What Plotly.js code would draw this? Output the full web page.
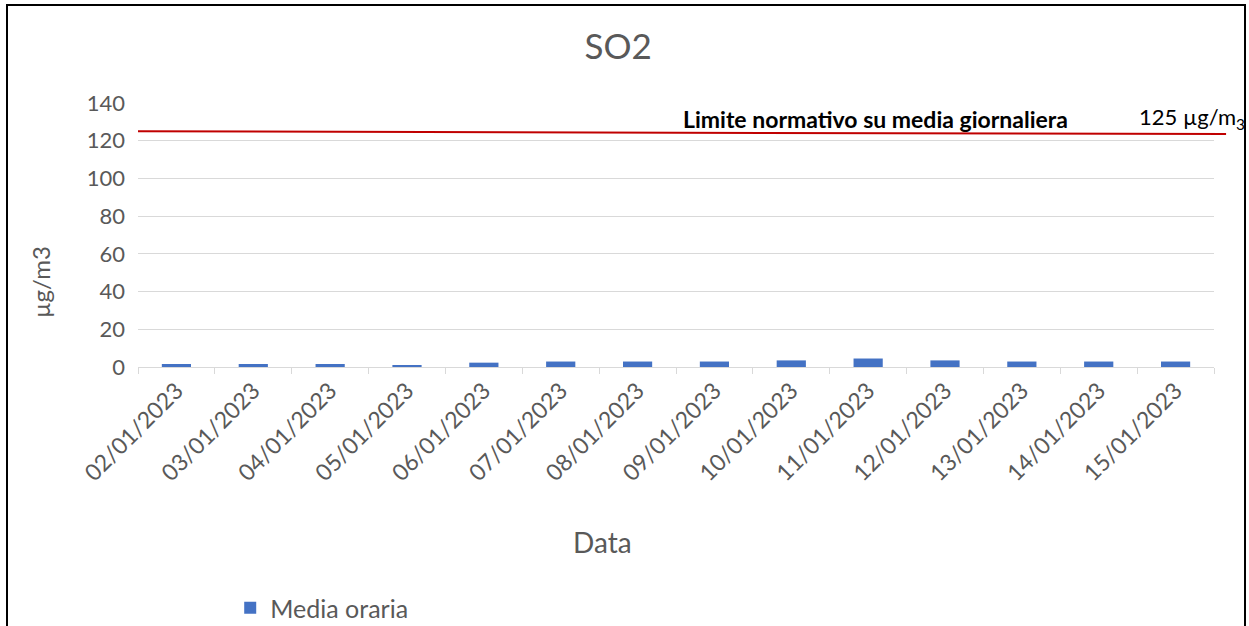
<!DOCTYPE html>
<html>
<head>
<meta charset="utf-8">
<script src="https://cdn.plot.ly/plotly-3.0.1.min.js"></script>
<style>
html,body{margin:0;padding:0;background:#fff;}
#wrap{position:relative;width:1249px;height:626px;overflow:hidden;}
#chart{position:absolute;left:0;top:0;width:1249px;height:626px;}
#frame{position:absolute;left:6px;top:4px;width:1236px;height:640px;border:2px solid #000;pointer-events:none;}
</style>
</head>
<body>
<div id="wrap"><div id="chart"></div><div id="frame"></div></div>
<script>
const dates = ["02/01/2023","03/01/2023","04/01/2023","05/01/2023","06/01/2023","07/01/2023","08/01/2023","09/01/2023","10/01/2023","11/01/2023","12/01/2023","13/01/2023","14/01/2023","15/01/2023"];
const mediaOraria = [1.6,1.6,1.6,0.9,2.3,2.9,2.9,2.9,3.5,4.5,3.5,2.9,2.9,2.9];
const limitStart = 125;
const limitEnd = 123.5;
const yTicks = [0,20,40,60,80,100,120,140];

const FONT = "Lato, 'Open Sans', sans-serif";
const GREY = "#595959";

const data = [{
  type: "bar",
  x: dates,
  y: mediaOraria,
  name: "Media oraria",
  marker: {color: "#4472c4"},
  hoverinfo: "x+y"
}];

const layout = {
  width: 1249, height: 626,
  margin: {l: 138, r: 35, t: 103, b: 259, autoexpand: false},
  paper_bgcolor: "#fff", plot_bgcolor: "#fff",
  font: {family: FONT, color: GREY, size: 18},
  bargap: 0.62,
  title: {text: "SO2", font: {family: FONT, size: 35, color: GREY}, x: 0.495, xref: "container", xanchor: "center", y: 0.925, yref: "container", yanchor: "middle"},
  showlegend: true,
  legend: {orientation: "h", x: 0.0857, xanchor: "left", y: -0.913, yanchor: "middle", font: {family: FONT, size: 25, color: GREY}, itemwidth: 30},
  xaxis: {
    type: "category",
    automargin: false,
    tickangle: -45,
    tickfont: {family: FONT, size: 23, color: GREY},
    ticks: "outside", ticklen: 6, tickcolor: "#d9d9d9", tickson: "boundaries",
    showline: true, linecolor: "#d9d9d9", linewidth: 1.3,
    showgrid: false, zeroline: false
  },
  yaxis: {
    automargin: false,
    range: [0, 140], tickvals: yTicks, ticktext: yTicks.map(String),
    tickfont: {family: FONT, size: 22, color: GREY},
    showgrid: true, gridcolor: "#d9d9d9", gridwidth: 1.3,
    zeroline: false, showline: false, ticks: "",
    ticklabelstandoff: 12
  },
  shapes: [{
    type: "line", xref: "paper", yref: "y",
    x0: 0, x1: 1.0112, y0: limitStart, y1: limitEnd,
    line: {color: "#c00000", width: 2}
  }],
  annotations: [
    {xref: "paper", yref: "y", x: 0.5045, y: 131.5, xanchor: "left", yanchor: "middle",
     text: "<b>Limite normativo su media giornaliera</b>", showarrow: false,
     font: {family: FONT, size: 23, color: "#000"}},
    {xref: "paper", yref: "y", x: 0.9287, y: 132, xanchor: "left", yanchor: "middle",
     text: "125 µg/m<sub>3</sub>", showarrow: false,
     font: {family: FONT, size: 22, color: "#000"}},
    {xref: "paper", yref: "paper", x: (602-138)/1076, y: -(542-367)/264, xanchor: "center", yanchor: "middle",
     text: "Data", showarrow: false, font: {family: FONT, size: 28, color: GREY}},
    {xref: "paper", yref: "paper", x: -(138-40)/1076, y: (367-282)/264, xanchor: "center", yanchor: "middle",
     text: "µg/m3", textangle: -90, showarrow: false, font: {family: FONT, size: 24, color: GREY}}
  ]
};

Plotly.newPlot("chart", data, layout, {displayModeBar: false});
</script>
</body>
</html>
